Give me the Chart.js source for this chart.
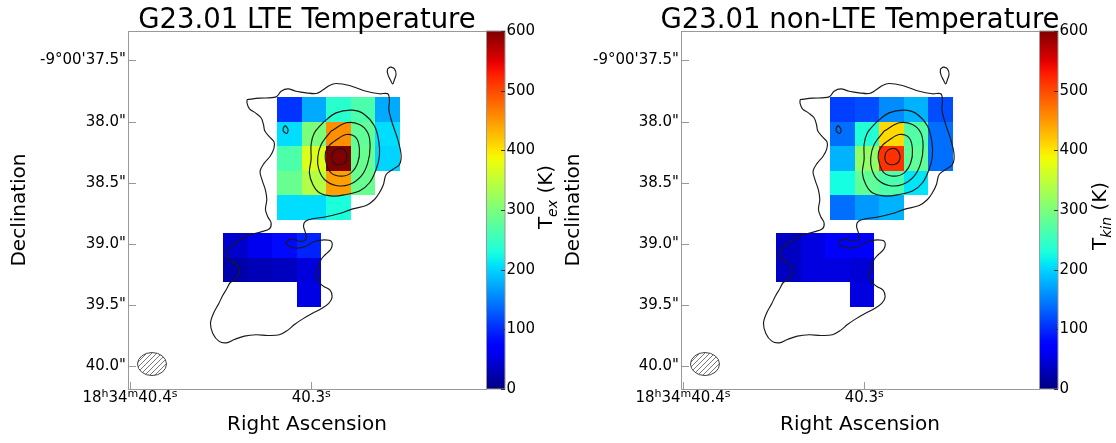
<!DOCTYPE html>
<html>
<head>
<meta charset="utf-8">
<script src="https://cdn.jsdelivr.net/npm/chart.js@4.4.1/dist/chart.umd.min.js"></script>
<style>
  body { margin: 0; background: #fff; width: 1116px; height: 443px; position: relative; overflow: hidden; }
  .panel { position: absolute; top: 0; width: 558px; height: 443px; }
  #left { left: 0; }
  #right { left: 558px; }
</style>
</head>
<body>
<div class="panel" id="left"><canvas id="lteChart" width="558" height="443"></canvas></div>
<div class="panel" id="right"><canvas id="nlteChart" width="558" height="443"></canvas></div>
<script>
// x: RA offset in arcsec west of 18h34m40.4s, y: Dec arcsec below -9°00'
const raTicks = [0, 1.4815];
// tick labels as [text, superscript, text, superscript, ...]
const raTickLabels = [['18', 'h', '34', 'm', '40.4', 's'], ['40.3', 's']];
const decTicks = [37.5, 38.0, 38.5, 39.0, 39.5, 40.0];
const decTickLabels = ['-9°00\'37.5"', '38.0"', '38.5"', '39.0"', '39.5"', '40.0"'];
const tempTicks = [0, 100, 200, 300, 400, 500, 600];

// map pixel centres (0.2" pixels)
const northRA = [1.305, 1.505, 1.705, 1.905, 2.105];
const northDec = [37.9, 38.1, 38.3, 38.5, 38.7];
const southRA = [0.864, 1.064, 1.264, 1.464];
const southDec = [39.013, 39.213, 39.413];
const pixelSize = 0.2;

// excitation temperature (K), LTE fit
const lteNorth = [
  [105, 175, 240, 265, 175],
  [205, 300, 456, 280, 205],
  [265, 370, 600, 285, 200],
  [285, 340, 445, 285, null],
  [205, 205, 230, null, null]
];
const lteSouth = [
  [40, 58, 80, 95],
  [22, 28, 33, 48],
  [null, null, null, 52]
];

// kinetic temperature (K), non-LTE fit
const nlteNorth = [
  [112, 120, 157, 180, 120],
  [140, 235, 408, 270, 140],
  [180, 315, 515, 280, 140],
  [225, 280, 265, 210, null],
  [140, 165, 180, null, null]
];
const nlteSouth = [
  [35, 50, 70, 72],
  [35, 50, 50, 45],
  [null, null, null, 50]
];

// continuum contours
const contourOuter = [
  [0.957,37.819],[1.058,37.808],[1.194,37.797],[1.235,37.751],[1.290,37.732],[1.358,37.751],[1.439,37.764],
  [1.521,37.770],[1.575,37.742],[1.630,37.704],[1.684,37.688],[1.793,37.704],[1.930,37.751],[2.038,37.772],
  [2.107,37.772],[2.120,37.832],[2.115,37.900],[2.134,37.982],[2.161,38.064],[2.188,38.145],[2.215,38.268],
  [2.202,38.350],[2.147,38.390],[2.093,38.431],[2.071,38.513],[2.038,38.581],[1.998,38.636],[1.930,38.685],
  [1.820,38.712],[1.712,38.750],[1.603,38.777],[1.494,38.793],[1.434,38.813],[1.418,38.853],[1.434,38.908],
  [1.439,38.957],[1.398,38.979],[1.330,38.962],[1.276,38.979],[1.290,39.011],[1.358,39.033],[1.439,39.017],
  [1.507,38.979],[1.589,38.965],[1.646,38.979],[1.643,39.039],[1.597,39.085],[1.562,39.126],[1.543,39.180],
  [1.521,39.248],[1.534,39.303],[1.581,39.344],[1.635,39.376],[1.652,39.431],[1.624,39.485],[1.562,39.529],
  [1.488,39.567],[1.412,39.611],[1.344,39.657],[1.290,39.703],[1.221,39.741],[1.126,39.747],[1.031,39.741],
  [0.935,39.752],[0.854,39.779],[0.786,39.807],[0.726,39.793],[0.677,39.730],[0.658,39.649],[0.682,39.567],
  [0.726,39.485],[0.758,39.420],[0.791,39.365],[0.818,39.316],[0.873,39.276],[0.894,39.213],[0.862,39.158],
  [0.807,39.126],[0.791,39.077],[0.818,39.022],[0.881,38.976],[0.963,38.930],[1.071,38.900],[1.140,38.875],
  [1.153,38.826],[1.126,38.777],[1.107,38.717],[1.118,38.636],[1.107,38.559],[1.080,38.478],[1.063,38.404],
  [1.099,38.336],[1.145,38.282],[1.175,38.222],[1.178,38.167],[1.140,38.124],[1.102,38.077],[1.091,38.023],
  [1.071,37.968],[1.025,37.928],[0.976,37.895],[0.957,37.851],[0.957,37.819]
];
const contourIslandW = [[1.270,38.031],[1.292,38.064],[1.281,38.096],[1.254,38.077],[1.254,38.050],[1.270,38.031]];
const contourIslandN = [[2.126,37.552],[2.161,37.568],[2.174,37.614],[2.161,37.655],[2.147,37.691],[2.126,37.655],
  [2.107,37.614],[2.104,37.573],[2.126,37.552]];
const contour2 = [[1.575,38.009],[1.684,37.928],[1.820,37.906],[1.916,37.941],[1.998,38.036],[2.033,38.159],
  [2.038,38.282],[2.011,38.390],[1.957,38.499],[1.875,38.567],[1.766,38.595],[1.657,38.608],[1.548,38.581],
  [1.494,38.513],[1.466,38.418],[1.480,38.309],[1.480,38.186],[1.507,38.091],[1.575,38.009]];
const contour3 = [[1.643,38.077],[1.766,38.009],[1.875,38.023],[1.943,38.091],[1.962,38.200],[1.943,38.336],
  [1.889,38.445],[1.793,38.513],[1.684,38.521],[1.589,38.472],[1.543,38.390],[1.534,38.295],[1.562,38.186],
  [1.643,38.077]];
const contour4 = [[1.671,38.159],[1.766,38.105],[1.848,38.132],[1.875,38.227],[1.861,38.336],[1.807,38.418],
  [1.725,38.445],[1.643,38.418],[1.603,38.336],[1.597,38.254],[1.630,38.194],[1.671,38.159]];
const contour5 = [[1.657,38.254],[1.684,38.227],[1.739,38.222],[1.771,38.268],[1.766,38.322],[1.725,38.350],
  [1.671,38.341],[1.649,38.303],[1.657,38.254]];

// synthesized beam
const beamRA = 0.18, beamDec = 39.98, beamWidth = 0.237, beamHeight = 0.188;

const FONT = 'DejaVu Sans';
const AXIS_GREY = '#999';

// matplotlib jet colormap, 0-600 K
function jet(v) {
  const t = Math.min(1, Math.max(0, v / 600));
  const seg = pts => {
    for (let i = 1; i < pts.length; i++) {
      if (t <= pts[i][0]) {
        const [x0, y0] = pts[i - 1], [x1, y1] = pts[i];
        return y0 + (y1 - y0) * (t - x0) / (x1 - x0);
      }
    }
    return pts[pts.length - 1][1];
  };
  const r = seg([[0, 0], [0.35, 0], [0.66, 1], [0.89, 1], [1, 0.5]]);
  const g = seg([[0, 0], [0.125, 0], [0.375, 1], [0.64, 1], [0.91, 0], [1, 0]]);
  const b = seg([[0, 0.5], [0.11, 1], [0.34, 1], [0.65, 0], [1, 0]]);
  return `rgb(${Math.round(r * 255)},${Math.round(g * 255)},${Math.round(b * 255)})`;
}

const tempMap = {
  id: 'tempMap',
  beforeDatasetsDraw(chart, args, opts) {
    const { ctx, chartArea: a, scales: { x, y } } = chart;
    const h = pixelSize / 2;
    ctx.save();
    ctx.beginPath();
    ctx.rect(a.left, a.top, a.right - a.left, a.bottom - a.top);
    ctx.clip();
    opts.blocks.forEach(({ ra, dec, values }) => {
      values.forEach((row, r) => row.forEach((v, c) => {
        if (v == null) return;
        const x0 = Math.round(x.getPixelForValue(ra[c] - h));
        const x1 = Math.round(x.getPixelForValue(ra[c] + h));
        const y0 = Math.round(y.getPixelForValue(dec[r] - h));
        const y1 = Math.round(y.getPixelForValue(dec[r] + h));
        ctx.fillStyle = jet(v);
        ctx.fillRect(Math.min(x0, x1), Math.min(y0, y1), Math.abs(x1 - x0), Math.abs(y1 - y0));
      }));
    });
    ctx.restore();
  }
};

const beam = {
  id: 'beam',
  afterDatasetsDraw(chart) {
    const { ctx, scales: { x, y } } = chart;
    const cx = x.getPixelForValue(beamRA), cy = y.getPixelForValue(beamDec);
    const rx = Math.abs(x.getPixelForValue(beamRA + beamWidth / 2) - cx);
    const ry = Math.abs(y.getPixelForValue(beamDec + beamHeight / 2) - cy);
    ctx.save();
    ctx.beginPath();
    ctx.ellipse(cx, cy, rx, ry, 0, 0, Math.PI * 2);
    ctx.save();
    ctx.clip();
    ctx.strokeStyle = '#555';
    ctx.lineWidth = 0.8;
    for (let d = -rx - ry; d < rx + ry; d += 5) {
      ctx.beginPath();
      ctx.moveTo(cx + d - ry, cy + ry);
      ctx.lineTo(cx + d + ry, cy - ry);
      ctx.stroke();
    }
    ctx.restore();
    ctx.beginPath();
    ctx.ellipse(cx, cy, rx, ry, 0, 0, Math.PI * 2);
    ctx.strokeStyle = '#444';
    ctx.lineWidth = 1;
    ctx.stroke();
    ctx.restore();
  }
};

// frame, inward ticks, RA labels, colour bar and panel title
const decorations = {
  id: 'decorations',
  afterDraw(chart, args, opts) {
    const { ctx, chartArea: a, scales: { x, y, cb } } = chart;
    ctx.save();
    ctx.strokeStyle = AXIS_GREY;
    ctx.lineWidth = 1;
    ctx.strokeRect(a.left + 0.5, a.top + 0.5, a.right - a.left, a.bottom - a.top);
    ctx.beginPath();
    y.ticks.forEach(t => {
      const py = Math.round(y.getPixelForValue(t.value)) + 0.5;
      ctx.moveTo(a.left, py); ctx.lineTo(a.left + 8, py);
    });
    x.ticks.forEach(t => {
      const px = Math.round(x.getPixelForValue(t.value)) + 0.5;
      ctx.moveTo(px, a.bottom); ctx.lineTo(px, a.bottom - 7);
    });
    ctx.stroke();

    // RA tick labels with raised h/m/s
    ctx.fillStyle = '#000';
    ctx.textBaseline = 'alphabetic';
    ctx.textAlign = 'left';
    const base = `15px "${FONT}"`, sup = `11px "${FONT}"`;
    x.ticks.forEach((t, i) => {
      const parts = raTickLabels[i];
      let w = 0;
      parts.forEach((p, k) => { ctx.font = k % 2 ? sup : base; w += ctx.measureText(p).width; });
      let px = x.getPixelForValue(t.value) - w / 2;
      const py = a.bottom + 13;
      parts.forEach((p, k) => {
        ctx.font = k % 2 ? sup : base;
        ctx.fillText(p, px, k % 2 ? py - 5 : py);
        px += ctx.measureText(p).width;
      });
    });

    // colour bar
    const bx = a.right + 0.5, bw = 18.5;
    const top = cb.getPixelForValue(600), bottom = cb.getPixelForValue(0);
    const grad = ctx.createLinearGradient(0, top, 0, bottom);
    for (let i = 0; i <= 60; i++) grad.addColorStop(i / 60, jet(600 - i * 10));
    ctx.fillStyle = grad;
    ctx.fillRect(bx, top, bw, bottom - top);
    ctx.strokeStyle = AXIS_GREY;
    ctx.strokeRect(bx, top, bw, bottom - top);
    ctx.strokeStyle = '#333';
    ctx.beginPath();
    tempTicks.forEach(v => {
      const py = Math.round(cb.getPixelForValue(v)) + 0.5;
      ctx.moveTo(bx + bw - 4, py); ctx.lineTo(bx + bw, py);
    });
    ctx.stroke();

    // colour bar label: T with subscript, rotated
    ctx.fillStyle = '#000';
    ctx.translate(a.right + opts.labelDx, opts.labelY);
    ctx.rotate(-Math.PI / 2);
    ctx.font = `20px "${FONT}"`;
    const wT = ctx.measureText('T').width;
    const wK = ctx.measureText(' (K)').width;
    ctx.font = `italic 14px "${FONT}"`;
    const wS = ctx.measureText(opts.sub).width;
    let sx = -(wT + wS + wK) / 2;
    ctx.font = `20px "${FONT}"`;
    ctx.fillText('T', sx, 0);
    sx += wT;
    ctx.font = `italic 14px "${FONT}"`;
    ctx.fillText(opts.sub, sx, 5);
    sx += wS;
    ctx.font = `20px "${FONT}"`;
    ctx.fillText(' (K)', sx, 0);
    ctx.setTransform(1, 0, 0, 1, 0, 0);

    // panel title
    ctx.font = `27.5px "${FONT}"`;
    ctx.textAlign = 'center';
    ctx.fillText(opts.title, (a.left + a.right) / 2, 28);
    ctx.restore();
  }
};

function contourSets() {
  return [contourOuter, contourIslandW, contourIslandN, contour2, contour3, contour4, contour5].map(c => ({
    data: c.map(([x, y]) => ({ x, y })),
    showLine: true,
    borderColor: '#1a1a1a',
    borderWidth: 1.15,
    pointRadius: 0,
    tension: 0.35,
    fill: false
  }));
}

function makePanel(canvasId, opt) {
  return new Chart(document.getElementById(canvasId), {
    type: 'scatter',
    data: { datasets: contourSets() },
    options: {
      responsive: false,
      animation: false,
      devicePixelRatio: 1,
      layout: { padding: { top: 31, left: 0, right: 0, bottom: 0 } },
      plugins: {
        legend: { display: false },
        tooltip: { enabled: false },
        tempMap: { blocks: opt.blocks },
        decorations: { title: opt.title, sub: opt.sub, labelDx: opt.labelDx, labelY: opt.labelY }
      },
      scales: {
        x: {
          type: 'linear', position: 'bottom', min: -0.016, max: 2.909,
          afterBuildTicks: s => { s.ticks = raTicks.map(v => ({ value: v })); },
          afterFit: s => { s.height = 54; },
          grid: { display: false, drawTicks: false },
          border: { display: false },
          ticks: { display: false },
          title: { display: true, text: 'Right Ascension', color: '#000',
                   font: { family: FONT, size: 20 }, padding: { top: 0, bottom: 6 } }
        },
        y: {
          type: 'linear', position: 'left', min: 37.259, max: 40.184, reverse: true,
          afterBuildTicks: s => { s.ticks = decTicks.map(v => ({ value: v })); },
          afterFit: s => { s.width = opt.yWidth; },
          grid: { display: false, drawTicks: false },
          border: { display: false },
          ticks: { padding: 2, color: '#000', font: { family: FONT, size: 15 },
                   callback: (v, i) => decTickLabels[i] },
          title: { display: true, text: 'Declination', color: '#000',
                   font: { family: FONT, size: 20 }, padding: { top: opt.yTitlePad, bottom: 0 } }
        },
        cb: {
          type: 'linear', position: 'right', min: 0, max: 600,
          afterBuildTicks: s => { s.ticks = tempTicks.map(v => ({ value: v })); },
          afterFit: s => { s.width = opt.cbWidth; },
          grid: { display: false, drawTicks: false },
          border: { display: false },
          ticks: { padding: 20.5, color: '#000', font: { family: FONT, size: 15 } }
        }
      }
    },
    plugins: [tempMap, beam, decorations]
  });
}

makePanel('lteChart', {
  title: 'G23.01 LTE Temperature', sub: 'ex',
  blocks: [{ ra: northRA, dec: northDec, values: lteNorth }, { ra: southRA, dec: southDec, values: lteSouth }],
  yWidth: 128, cbWidth: 72, yTitlePad: 8, labelDx: 65.5, labelY: 197
});
makePanel('nlteChart', {
  title: 'G23.01 non-LTE Temperature', sub: 'kin',
  blocks: [{ ra: northRA, dec: northDec, values: nlteNorth }, { ra: southRA, dec: southDec, values: nlteSouth }],
  yWidth: 123, cbWidth: 77, yTitlePad: 3.5, labelDx: 67, labelY: 216
});
</script>
</body>
</html>
